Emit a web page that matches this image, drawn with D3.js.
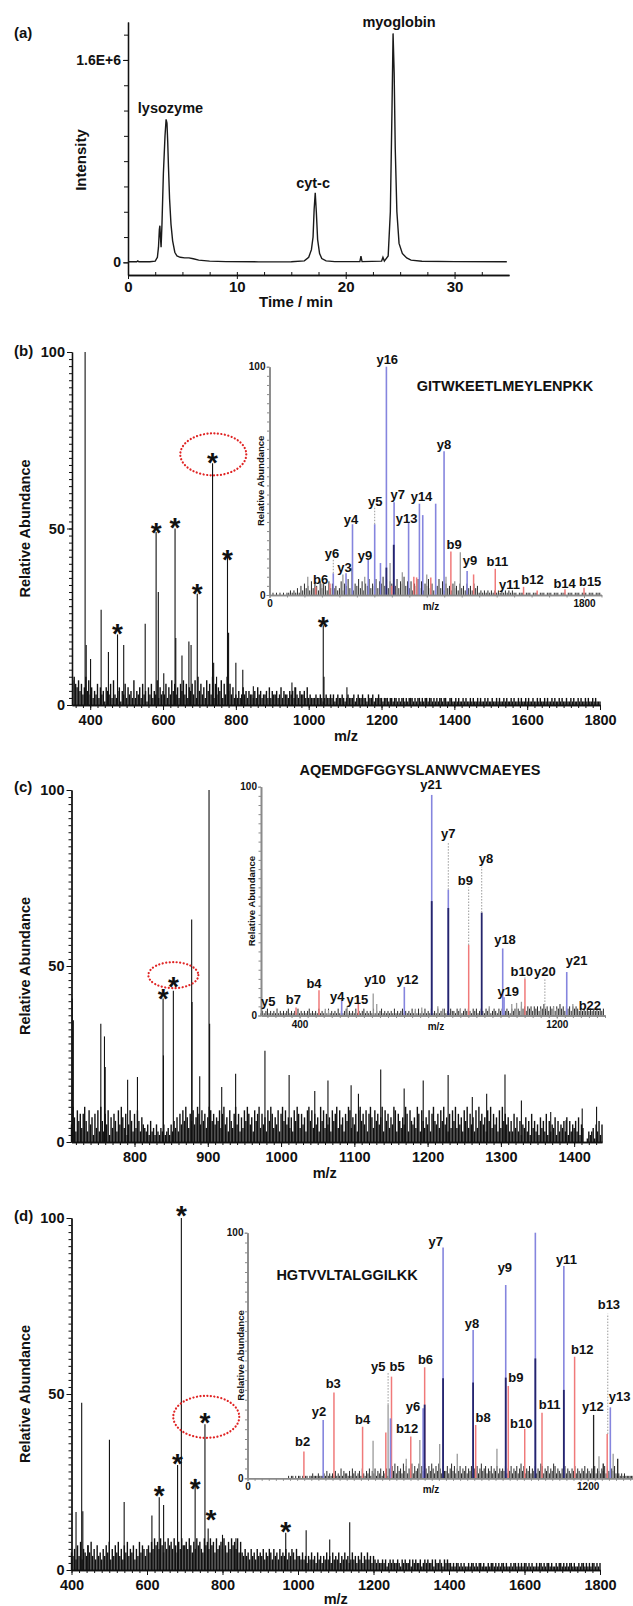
<!doctype html>
<html>
<head>
<meta charset="utf-8">
<style>
  body { margin: 0; background: #fff; }
  text { font-family: "Liberation Sans", Arial, sans-serif; font-weight: bold; fill: #111; }
</style>
</head>
<body>
<div class="container"></div>
<script src="https://d3js.org/d3.v7.min.js"></script>
<script>
// ---- (a) chromatogram, intensity in units of 1E+6 ----
const chromTime   = [0, 0.8, 0.9, 1.0, 2.0, 2.5, 2.7, 2.8, 2.88, 2.93, 2.98, 3.04, 3.12, 3.25, 3.4, 3.5, 3.58, 3.65, 3.72, 3.82, 3.95, 4.1, 4.3, 4.5, 4.8, 5.2, 5.6, 6.0, 6.5, 7.5, 9, 12, 15, 16.2, 16.6, 16.85, 17.0, 17.1, 17.2, 17.3, 17.42, 17.6, 17.8, 18.2, 19, 21.3, 21.4, 21.5, 23.3, 23.42, 23.55, 23.9, 24.1, 24.25, 24.35, 24.45, 24.55, 24.7, 24.9, 25.2, 25.6, 26.0, 27.0, 30.0, 34.8];
const chromSignal = [0.005, 0.005, 0.012, 0.005, 0.005, 0.01, 0.04, 0.12, 0.26, 0.29, 0.2, 0.12, 0.3, 0.7, 1.0, 1.13, 1.1, 0.95, 0.75, 0.5, 0.3, 0.17, 0.08, 0.05, 0.04, 0.035, 0.035, 0.028, 0.018, 0.01, 0.006, 0.004, 0.005, 0.012, 0.04, 0.1, 0.2, 0.42, 0.55, 0.4, 0.18, 0.07, 0.03, 0.012, 0.006, 0.006, 0.05, 0.006, 0.01, 0.04, 0.01, 0.05, 0.4, 1.2, 1.81, 1.5, 0.9, 0.4, 0.15, 0.07, 0.035, 0.018, 0.009, 0.006, 0.005];
const chromLabels = [["lysozyme", 3.9, 1.22], ["cyt-c", 17.0, 0.63], ["myoglobin", 24.9, 1.9]];
const chromTicks = [0, 10, 20, 30];

// ---- (b) full MS, peaks [m/z, %] ----
const bPeaks = [[386,100],[389,17],[401,13],[430,27],[450,15],[475,20],[492,17],[551,23],[581,49],[587,32],[602,9],[633,50],[635,19],[652,14],[671,18],[677,17],[694,31.5],[736,68.5],[739,12],[747,8],[777,42],[780,20.5],[800,12],[819,10],[848,5.3],[954,6.4],[962,5],[1040,22.6],[1042,8],[1105,5]];
const bStars = [[475,22],[581,50.7],[633,52.2],[694,33.4],[736,70.6],[777,43.2],[1040,24.2]];
const bCircle = [738, 71];
const bNoise = "786574635847" +
  "35243625341543627324514362534272435263415362437253" +
  "43625374635264736254637284635274638263547263846352" +
  "32423534243324253423342524334235243324342532433425" +
  "23222322321232232312322321232223123223221322312232" +
  "21222122122121221212221212212122122121212212211221" +
  "12121121211212112121121211211212112121121211212112" +
  "121121121211212112121121211211212112121121211212111";
const bTicks = [400, 600, 800, 1000, 1200, 1400, 1600, 1800];

// (b) inset MS/MS
const bInsetBlue = [[365,9.5],[438,9.5],[475,31],[565,15.3],[602,31],[635,14],[669,100],[713,40.6],[796,31.7],[858,40],[877,35],[951,40],[999,63],[1131,10.5]];
const bInsetRed = [[265,3.6],[346,5],[700,4],[826,8],[842,7.7],[923,7.7],[1038,19],[1168,9],[1292,11.5],[1454,3.6],[1532,2],[1691,2.5],[1800,3.2]];
const bInsetGray = [[219,8],[300,5],[420,9],[470,12],[545,8],[610,7],[690,14],[760,10],[900,9],[1010,8],[1060,6],[1092,18.7]];
const bInsetNavy = [[711,22],[669,12]];
const bInsetDotted = [[365,9.5,16],[602,31,39]];
const bInsetLabels = [["y16",674,103],["y8",999,66],["y14",870,43],["y7",734,44],["y13",785,33.6],["y5",605,41],["y4",466,33],["y9",547,17.5],["y6",358,18],["y3",429,12],["b6",293,6.6],["b9",1057,22],["y9",1147,15],["b11",1304,14.6],["y11",1373,4.4],["b12",1505,7],["b14",1689,5],["b15",1835,5.8]];
const bInsetNoise = "00101010101121213142" + "53426354263542635342" + "36254736254736254735" + "47365847365847365846" +
  "36254736254735264736" + "25342534253425342534" + "12121212121212121212" + "11011101110111011101110111011101110111011101110111";

// ---- (c) full MS ----
const cPeaks = [[715,40.8],[716.5,34.6],[754,33.6],[759,30],[760,21.3],[790.6,17.7],[804,18.5],[839,40.8],[839.5,24.6],[853,43],[878,63.2],[878.5,39.8],[889,18.7],[901.7,100],[902.5,33.6],[919,15.6],[938,19.4],[978,25.9],[1011,19],[1046,14.5],[1064,17.5],[1095.6,16.1],[1105.6,13.7],[1136,20.6],[1168,15.2],[1194,17.5],[1228,19],[1261,12.8],[1280.6,13.7],[1305.6,19.2],[1328,11.8],[1368,8.5],[1389,6.2],[1411,9.5],[1430.6,10]];
const cStars = [[839,42.7],[853,46]];
const cCircle = [853, 47.4];
const cNoise = "5a7396848a6395728493a6385927486395a748259638496375" +
  "4352634253243523425364738596a7486957a8596847a96857" +
  "6948a5739648a5837496a8573968a4857396a8475938a69574" +
  "7396a8485739a6948573a6948573968a4957386a9475839a68" +
  "5938a7496857a3968475a9386475a8396574a8396475938a65" +
  "8496a5738496a4857396a4857394a6857396a4857394a68573" +
  "63847362547362846352746382635472635463726354637254" +
  "0013234153625";
const cTicks = [800, 900, 1000, 1100, 1200, 1300, 1400];

// (c) inset
const cInsetBlue = [[811,96.4],[862.6,55],[725.8,12.5],[531,6.7],[1031.8,29.3],[1036,8],[1231,19]];
const cInsetRed = [[389,3.5],[460.4,11],[582.7,8.2],[926,30.8],[1101,16]];
const cInsetNavy = [[811,50],[862.6,47],[966.5,45]];
const cInsetGray = [[296,2],[330,3],[480,3],[490,2.5],[548,4],[629,9.6],[640,5],[760,3],[780,3.5],[830,4],[845,3],[900,3],[990,4],[1060,5],[1075,5.5],[1090,6],[1150,3],[1190,4],[1200,3],[1250,5]];
const cInsetDotted = [[862.6,55,76],[926,30.8,56],[966.5,45,65],[1163,2,16],[1101,16,17.5]];
const cInsetLabels = [["y21",809,101],["y7",862.7,79.6],["b9",915.6,59.2],["y8",980,68.7],["y18",1039,33],["y19",1049,10.3],["b10",1091,19.1],["y20",1163,19.1],["y21",1262,24.2],["b22",1303,4.5],["y12",736,15.9],["y10",634.6,15.7],["y15",579.6,7],["y4",517,8.2],["b4",444.9,14],["b7",380.5,7],["y5",302.7,6]];
const cInsetNoise = "1212312121312121231212131212123121213121" + "2131212131212312121312123121213121231212" +
  "1213121231212131213121312131213121312132" + "2132312323213231232132312321323123213231" +
  "3243424342434243534243424353424342434" + "32323232323232323";

// ---- (d) full MS ----
const dPeaks = [[412,16.5],[427,47.5],[430,16.7],[443,7],[500.5,37],[539.5,19.3],[613,15.5],[632.4,20.7],[644,18.5],[681,29.8],[691,100],[727.5,25.9],[753.5,41.4],[762,11.8],[800,10],[835.6,9],[967.5,10.6],[1021.6,11.3],[1084,8.7],[1137,13.6]];
const dStars = [[632.4,22.9],[681,32],[691,102.5],[727.5,25],[753.5,43.7],[769.7,16.2],[967.5,12.7]];
const dCircle = [757, 43.5];
const dNoise = "54637483654758463745364758364758463758465736485764" +
  "6758697869758697869758697" +
  "78697586978659786978596786975869786958" +
  "54645364536454635465364536454635465364" +
  "43534243534253424353425343524353423534243524353424" +
  "32322323123232232132322313232231232322313223213232" +
  "2121221212112122121221211212212121221211212212121221212112122121221211212212121221211212212121221212";
const dTicks = [400, 600, 800, 1000, 1200, 1400, 1600, 1800];

// (d) inset
const dInsetBlue = [[267,23.7],[504.5,24.4],[619.5,28.5],[690,94],[796,60.4],[911,78.7],[1015.5,100],[1116,86.4],[1280,28.9]];
const dInsetRed = [[199,10.9],[305,34.9],[406,21],[488,18.6],[508,41.4],[576,17],[625,45.2],[805,21.7],[920,37.6],[978,20.2],[1039,26.7],[1154,49.5],[1269,18]];
const dInsetNavy = [[690,40.7],[796,39],[911,41],[1015.5,48.8],[1116,36],[625,30]];
const dInsetGray = [[443,15.3],[496,30],[608,15.6],[678,14],[560,8],[740,10],[880,12],[1240,9],[1290,10]];
const dInsetBlack = [[1221,25.8],[1255,6],[1306,8]];
const dInsetDotted = [[496,30,43],[1271,18,67]];
const dInsetLabels = [["b2",194.4,14.9],["y2",252,27.1],["b3",302.4,38.7],["b4",405.8,24],["y5",461,45.7],["b5",528,45.5],["b12",563,20.4],["y6",584,29.4],["b6",628,48.4],["y7",664,96.3],["y8",792,63.1],["b8",831,24.7],["y9",908,85.8],["b9",947,41.1],["b10",966,22.4],["b11",1066,30.1],["y11",1125,88.9],["b12",1181,52.5],["y12",1218.5,29.2],["b13",1275,70.6],["y13",1312.6,33.2]];
const dInsetNoise = "000000000000000000000000000001" + "011010110101101121112111213121" +
  "2131214132213142312314213241324132413241" + "4253625342635243625346253642536425364253" +
  "3524635243524352435243524634524352435243" + "4352435243524635243524352436524352436524" +
  "3243524324352432435243243524324352432435" + "2121212111111";

// ---------- drawing ----------
const svg = d3.select('.container').append('svg').attr('width', 633).attr('height', 1606);
const plain = d3.format('d');

const noisePts = (s, start, step) => Array.from(s, (c, i) => [start + i * step, parseInt(c, 36)]);

function sticks(g, data, x, y, color, width, dash) {
  g.append('g').selectAll('line').data(data).join('line')
    .attr('x1', d => x(d[0])).attr('x2', d => x(d[0]))
    .attr('y1', d => y(d.length > 2 ? d[1] : 0))
    .attr('y2', d => y(d.length > 2 ? d[2] : d[1]))
    .attr('stroke', color).attr('stroke-width', width)
    .attr('stroke-dasharray', dash || null);
}

function styleAxis(sel, size, color) {
  sel.attr('font-size', size).attr('font-family', null).attr('color', color);
}

// panel (a)
{
  const x = d3.scaleLinear().domain([0, 35]).range([128, 509]);
  const y = d3.scaleLinear().domain([-0.1, 1.9]).range([275, 22]);
  const g = svg.append('g');
  const ya = g.append('g').attr('transform', `translate(${x(0)},0)`)
    .call(d3.axisLeft(y).tickValues(d3.range(0, 1.81, 0.2)).tickSize(4).tickSizeOuter(0).tickFormat(''));
  styleAxis(ya, 14, '#111');
  const yl = g.append('g').attr('transform', `translate(${x(0)},0)`)
    .call(d3.axisLeft(y).tickValues([0, 1.6]).tickSize(5).tickSizeOuter(0).tickPadding(2)
      .tickFormat(d => d === 0 ? '0' : '1.6E+6'));
  styleAxis(yl, 14, '#111');
  const xm = g.append('g').attr('transform', `translate(0,${y(-0.1)})`)
    .call(d3.axisTop(x).tickValues(d3.range(2.5, 35, 2.5)).tickSize(3).tickSizeOuter(0).tickFormat(''));
  styleAxis(xm, 14, '#111');
  const xl = g.append('g').attr('transform', `translate(0,${y(-0.1)})`)
    .call(d3.axisBottom(x).tickValues(chromTicks).tickSize(4).tickSizeOuter(0).tickPadding(2));
  styleAxis(xl, 15, '#111');
  g.selectAll('.domain').attr('stroke-width', 1.3);

  g.append('path').datum(chromTime.map((t, i) => [t, chromSignal[i]]))
    .attr('fill', 'none').attr('stroke', '#1a1a1a').attr('stroke-width', 1.4)
    .attr('d', d3.line().x(d => x(d[0])).y(d => y(d[1])));

  g.selectAll('.plabel').data(chromLabels).join('text')
    .attr('x', d => x(d[1])).attr('y', d => y(d[2])).attr('text-anchor', 'middle')
    .attr('dominant-baseline', 'central').attr('font-size', 14.5).text(d => d[0]);

  g.append('text').attr('x', 296).attr('y', 301).attr('text-anchor', 'middle')
    .attr('dominant-baseline', 'central').attr('font-size', 15).text('Time / min');
  g.append('text').attr('transform', 'translate(80,160) rotate(-90)').attr('text-anchor', 'middle')
    .attr('dominant-baseline', 'central').attr('font-size', 15).text('Intensity');
  g.append('text').attr('x', 14).attr('y', 32).attr('dominant-baseline', 'central')
    .attr('font-size', 15).text('(a)');
}

function mainSpectrum(p) {
  const x = d3.scaleLinear().domain(p.dom).range([p.x0, p.x1]);
  const y = d3.scaleLinear().domain([0, 100]).range([p.y0, p.y1]);
  const g = svg.append('g');
  const noise = noisePts(p.noise, p.noiseStart, p.noiseStep).filter(d => d[0] >= p.dom[0] && d[0] <= p.dom[1]);
  sticks(g, noise, x, y, '#111', 1.4);
  sticks(g, p.peaks, x, y, '#111', 1.1);

  const ym = g.append('g').attr('transform', `translate(${p.x0},0)`)
    .call(d3.axisLeft(y).tickValues(d3.range(0, 101, 2)).tickSize(3).tickSizeOuter(0).tickFormat(''));
  styleAxis(ym, 14, '#111');
  const yl = g.append('g').attr('transform', `translate(${p.x0},0)`)
    .call(d3.axisLeft(y).tickValues([0, 50, 100]).tickSize(5).tickSizeOuter(0).tickPadding(2));
  styleAxis(yl, 14.5, '#111');
  const xm = g.append('g').attr('transform', `translate(0,${p.y0})`)
    .call(d3.axisBottom(x).tickValues(p.minor).tickSize(3).tickSizeOuter(0).tickFormat(''));
  styleAxis(xm, 14, '#111');
  const xl = g.append('g').attr('transform', `translate(0,${p.y0})`)
    .call(d3.axisBottom(x).tickValues(p.ticks).tickSize(5).tickSizeOuter(0).tickPadding(5).tickFormat(plain));
  styleAxis(xl, 14.5, '#111');
  g.selectAll('.domain').attr('stroke-width', 1.3);

  g.append('g').selectAll('text').data(p.stars).join('text')
    .attr('x', d => x(d[0])).attr('y', d => y(d[1]) + 16).attr('text-anchor', 'middle')
    .attr('font-size', 28).text('*');

  g.append('ellipse').attr('cx', x(p.circle[0])).attr('cy', y(p.circle[1]))
    .attr('rx', p.circleR[0]).attr('ry', p.circleR[1])
    .attr('fill', 'none').attr('stroke', '#e02424').attr('stroke-width', 2.2)
    .attr('stroke-dasharray', '0.1,3.4').attr('stroke-linecap', 'round');

  g.append('text').attr('x', (p.x0 + p.x1) / 2 + p.mzShift).attr('y', p.y0 + p.mzDy)
    .attr('text-anchor', 'middle').attr('dominant-baseline', 'central').attr('font-size', 14.5).text('m/z');
  g.append('text').attr('transform', `translate(25,${(p.y0 + p.y1) / 2}) rotate(-90)`)
    .attr('text-anchor', 'middle').attr('dominant-baseline', 'central').attr('font-size', 14.5)
    .text('Relative Abundance');
  g.append('text').attr('x', 14).attr('y', p.labelY).attr('dominant-baseline', 'central')
    .attr('font-size', 15).text(p.panel);
}

function inset(p) {
  const x = d3.scaleLinear().domain(p.dom).range([p.x0, p.x1]);
  const y = d3.scaleLinear().domain([0, 100]).range([p.y0, p.y1]);
  const g = svg.append('g');
  const noise = noisePts(p.noise, p.noiseStart, p.noiseStep).filter(d => d[0] <= p.dom[1]);
  sticks(g, noise, x, y, '#2a2a2a', 1);
  sticks(g, p.gray, x, y, '#9a9a9a', 1.3);
  sticks(g, p.red, x, y, '#f07a7a', 1.5);
  sticks(g, p.blue, x, y, '#8585de', 1.6);
  sticks(g, p.navy, x, y, '#25256c', 1.8);
  sticks(g, p.black || [], x, y, '#222', 1.3);
  sticks(g, p.dotted, x, y, '#9a9a9a', 1, '1.5,1.5');

  const ym = g.append('g').attr('transform', `translate(${p.x0},0)`)
    .call(d3.axisLeft(y).tickValues(d3.range(0, 101, 4)).tickSize(2.5).tickSizeOuter(0).tickFormat(''));
  styleAxis(ym, 10, '#8a8a8a');
  const yl = g.append('g').attr('transform', `translate(${p.x0},0)`)
    .call(d3.axisLeft(y).tickValues([0, 100]).tickSize(3).tickSizeOuter(0).tickPadding(1));
  styleAxis(yl, 10, '#8a8a8a');
  const xm = g.append('g').attr('transform', `translate(0,${p.y0})`)
    .call(d3.axisBottom(x).tickValues(p.minor).tickSize(2.5).tickSizeOuter(0).tickFormat(''));
  styleAxis(xm, 10, '#8a8a8a');
  const xl = g.append('g').attr('transform', `translate(0,${p.y0})`)
    .call(d3.axisBottom(x).tickValues(p.ticks).tickSize(3).tickSizeOuter(0).tickPadding(2).tickFormat(plain));
  styleAxis(xl, 10, '#8a8a8a');
  g.selectAll('.domain').attr('stroke-width', 1.6);

  g.append('g').selectAll('text').data(p.labels).join('text')
    .attr('x', d => x(d[1])).attr('y', d => y(d[2])).attr('text-anchor', 'middle')
    .attr('dominant-baseline', 'central').attr('font-size', 13).text(d => d[0]);

  g.append('text').attr('x', p.mzX).attr('y', p.y0 + 11).attr('text-anchor', 'middle')
    .attr('dominant-baseline', 'central').attr('font-size', 10).text('m/z');
  g.append('text').attr('transform', `translate(${p.x0 - p.titleOff},${(p.y0 + p.y1) / 2}) rotate(-90)`)
    .attr('text-anchor', 'middle').attr('dominant-baseline', 'central').attr('font-size', 9.5)
    .attr('fill', '#333').text('Relative Abundance');
  g.append('text').attr('x', p.seq[1]).attr('y', p.seq[2]).attr('text-anchor', 'middle')
    .attr('dominant-baseline', 'central').attr('font-size', 14.5).text(p.seq[0]);
}

// panel (b)
mainSpectrum({ dom: [350, 1800], x0: 72, x1: 600, y0: 705, y1: 352, noise: bNoise, noiseStart: 352, noiseStep: 4,
  peaks: bPeaks, stars: bStars, circle: bCircle, circleR: [33, 21], ticks: bTicks, minor: d3.range(360, 1801, 20),
  panel: '(b)', labelY: 350, mzShift: 10, mzDy: 31 });
inset({ dom: [0, 1900], x0: 269.5, x1: 601.5, y0: 595, y1: 366.7, noise: bInsetNoise, noiseStart: 0, noiseStep: 10,
  blue: bInsetBlue, red: bInsetRed, gray: bInsetGray, navy: bInsetNavy, dotted: bInsetDotted, labels: bInsetLabels,
  ticks: [0, 1800], minor: d3.range(0, 1901, 100), mzX: 431, titleOff: 9,
  seq: ['GITWKEETLMEYLENPKK', 505, 386] });

// panel (c)
mainSpectrum({ dom: [714, 1438], x0: 71.5, x1: 602, y0: 1142, y1: 790, noise: cNoise, noiseStart: 714, noiseStep: 2,
  peaks: cPeaks, stars: cStars, circle: cCircle, circleR: [25, 13], ticks: cTicks, minor: d3.range(720, 1438, 10),
  panel: '(c)', labelY: 786, mzShift: -12, mzDy: 31 });
inset({ dom: [280, 1350], x0: 261, x1: 605, y0: 1015.5, y1: 786.7, noise: cInsetNoise, noiseStart: 280, noiseStep: 5,
  blue: cInsetBlue, red: cInsetRed, gray: cInsetGray, navy: cInsetNavy, dotted: cInsetDotted, labels: cInsetLabels,
  ticks: [400, 1200], minor: d3.range(300, 1351, 25), mzX: 436, titleOff: 10,
  seq: ['AQEMDGFGGYSLANWVCMAEYES', 420, 770] });

// panel (d)
mainSpectrum({ dom: [400, 1800], x0: 71.5, x1: 600, y0: 1570, y1: 1218, noise: dNoise, noiseStart: 400, noiseStep: 4,
  peaks: dPeaks, stars: dStars, circle: dCircle, circleR: [33, 21], ticks: dTicks, minor: d3.range(400, 1801, 20),
  panel: '(d)', labelY: 1215, mzShift: 0, mzDy: 28.5 });
inset({ dom: [0, 1360], x0: 247.5, x1: 633, y0: 1478.3, y1: 1232.7, noise: dInsetNoise, noiseStart: 0, noiseStep: 5,
  blue: dInsetBlue, red: dInsetRed, gray: dInsetGray, navy: dInsetNavy, black: dInsetBlack, dotted: dInsetDotted,
  labels: dInsetLabels, ticks: [0, 1200], minor: d3.range(0, 1361, 25), mzX: 431, titleOff: 7,
  seq: ['HGTVVLTALGGILKK', 347, 1275] });
</script>
</body>
</html>
